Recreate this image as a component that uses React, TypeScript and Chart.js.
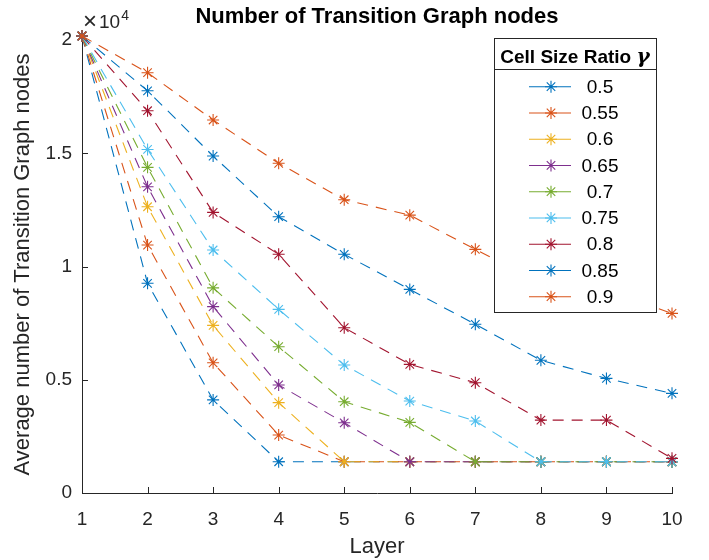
import React, { useEffect, useRef } from 'react';
import { Chart, registerables } from 'chart.js';

Chart.register(...registerables);

// ---- data ----
const layers = [1, 2, 3, 4, 5, 6, 7, 8, 9, 10];
const ratioLabels = ['0.5', '0.55', '0.6', '0.65', '0.7', '0.75', '0.8', '0.85', '0.9'];
const r050 = [20180, 9260, 4110, 1380, 1380, 1380, 1380, 1380, 1380, 1380];
const r055 = [20180, 10950, 5750, 2560, 1380, 1380, 1380, 1380, 1380, 1380];
const r060 = [20180, 12640, 7400, 3990, 1380, 1380, 1380, 1380, 1380, 1380];
const r065 = [20180, 13520, 8230, 4770, 3100, 1380, 1380, 1380, 1380, 1380];
const r070 = [20180, 14380, 9060, 6460, 4030, 3120, 1380, 1380, 1380, 1380];
const r075 = [20180, 15170, 10730, 8110, 5650, 4060, 3180, 1380, 1380, 1380];
const r080 = [20180, 16880, 12390, 10540, 7300, 5680, 4870, 3220, 3220, 1530];
const r085 = [20180, 17760, 14880, 12200, 10540, 8990, 7450, 5860, 5060, 4400];
const r090 = [20180, 18560, 16470, 14560, 12950, 12270, 10760, 9290, 8970, 7930];
const seriesValues = [r050, r055, r060, r065, r070, r075, r080, r085, r090];
const seriesColors = ['#0072BD', '#D95319', '#EDB120', '#7E2F8E', '#77AC30', '#4DBEEE', '#A2142F', '#0072BD', '#D95319'];
const yTickValues = [0, 5000, 10000, 15000, 20000];
const yMaxValue = 20180;
const chartTitle = 'Number of Transition Graph nodes';
const xAxisTitle = 'Layer';
const yAxisTitle = 'Average number of Transition Graph nodes';
const legendTitle = 'Cell Size Ratio ';
const legendSymbol = 'γ';

const FONT = "'Liberation Sans', Arial, Helvetica, sans-serif";
const AXIS_COLOR = '#262626';

function drawStar(ctx: CanvasRenderingContext2D, x: number, y: number, r: number) {
  ctx.beginPath();
  for (let k = 0; k < 4; k++) {
    const a = (k * Math.PI) / 4;
    ctx.moveTo(x - Math.cos(a) * r, y - Math.sin(a) * r);
    ctx.lineTo(x + Math.cos(a) * r, y + Math.sin(a) * r);
  }
  ctx.stroke();
}

const decorPlugin = {
  id: 'decor',
  beforeDatasetsDraw(chart: any) {
    const ctx = chart.ctx as CanvasRenderingContext2D;
    const xs = chart.scales.x;
    const ys = chart.scales.y;
    const area = chart.chartArea;
    ctx.save();
    ctx.strokeStyle = AXIS_COLOR;
    ctx.lineWidth = 1;
    ctx.beginPath();
    layers.forEach((v) => {
      const px = Math.round(xs.getPixelForValue(v)) + 0.5;
      ctx.moveTo(px, area.bottom);
      ctx.lineTo(px, area.bottom - 6);
    });
    yTickValues.forEach((v) => {
      const py = Math.round(ys.getPixelForValue(v)) + 0.5;
      ctx.moveTo(area.left, py);
      ctx.lineTo(area.left + 6, py);
    });
    ctx.stroke();
    ctx.restore();
  },
  afterDraw(chart: any) {
    const ctx = chart.ctx as CanvasRenderingContext2D;
    const area = chart.chartArea;
    ctx.save();
    // title
    ctx.fillStyle = '#000';
    ctx.font = `bold 22px ${FONT}`;
    ctx.textAlign = 'center';
    ctx.textBaseline = 'alphabetic';
    ctx.fillText(chartTitle, (area.left + area.right) / 2, 23);

    // exponent label
    ctx.fillStyle = AXIS_COLOR;
    ctx.textAlign = 'left';
    ctx.font = `24px ${FONT}`;
    ctx.fillText('×', 83, 29);
    ctx.font = `19px ${FONT}`;
    ctx.fillText('10', 99, 28);
    const w10 = ctx.measureText('10').width;
    ctx.font = `14px ${FONT}`;
    ctx.fillText('4', 99 + w10 + 1, 20);

    // legend box
    const L = 494, T = 38, R = 656, B = 312, SEP = 69;
    ctx.fillStyle = '#ffffff';
    ctx.fillRect(L, T, R - L, B - T);
    ctx.strokeStyle = '#262626';
    ctx.lineWidth = 1;
    ctx.strokeRect(L + 0.5, T + 0.5, R - L, B - T);
    ctx.beginPath();
    ctx.moveTo(L, SEP + 0.5);
    ctx.lineTo(R, SEP + 0.5);
    ctx.stroke();

    // legend title
    ctx.fillStyle = '#000';
    ctx.font = `bold 19px ${FONT}`;
    const tw = ctx.measureText(legendTitle).width;
    const gFont = `italic bold 20px 'DejaVu Serif', 'Liberation Serif', serif`;
    ctx.font = gFont;
    const gw = ctx.measureText(legendSymbol).width;
    const startX = (L + R) / 2 - (tw + gw) / 2;
    ctx.font = `bold 19px ${FONT}`;
    ctx.textAlign = 'left';
    ctx.fillText(legendTitle, startX, 63);
    ctx.font = gFont;
    ctx.fillText(legendSymbol, startX + tw, 63);

    // legend entries
    ctx.font = `19px ${FONT}`;
    ctx.textAlign = 'center';
    ctx.textBaseline = 'middle';
    ratioLabels.forEach((lab, i) => {
      const y = 86.7 + i * 26.25;
      ctx.strokeStyle = seriesColors[i];
      ctx.lineWidth = 1.1;
      ctx.beginPath();
      ctx.moveTo(529, y);
      ctx.lineTo(571, y);
      ctx.stroke();
      drawStar(ctx, 551, y, 6);
      ctx.fillStyle = '#000';
      ctx.fillText(lab, 600, y + 1);
    });
    ctx.restore();
  },
};

export default function App() {
  const canvasRef = useRef<HTMLCanvasElement | null>(null);

  useEffect(() => {
    const canvas = canvasRef.current;
    if (!canvas) return;
    const n = seriesValues.length;
    const chart = new Chart(canvas, {
      type: 'line',
      data: {
        datasets: seriesValues.map((vals, i) => ({
          label: ratioLabels[i],
          data: vals.map((v, j) => ({ x: layers[j], y: v })),
          borderColor: seriesColors[i],
          backgroundColor: seriesColors[i],
          borderWidth: 1.1,
          borderDash: [11, 8],
          pointStyle: 'star',
          pointRadius: 6,
          pointBorderWidth: 1.1,
          pointBorderColor: seriesColors[i],
          pointBackgroundColor: seriesColors[i],
          fill: false,
          tension: 0,
          clip: false as any,
          order: n - 1 - i,
        })),
      },
      options: {
        responsive: false,
        animation: false,
        events: [],
        layout: { padding: { top: 36, right: 37, left: 0, bottom: 0 } },
        plugins: {
          legend: { display: false },
          title: { display: false },
          tooltip: { enabled: false },
        },
        scales: {
          x: {
            type: 'linear',
            min: 1,
            max: 10,
            afterFit: (scale: any) => {
              scale.height = 67;
            },
            afterBuildTicks: (scale: any) => {
              scale.ticks = layers.map((v) => ({ value: v }));
            },
            ticks: {
              stepSize: 1,
              color: AXIS_COLOR,
              font: { family: FONT, size: 19 },
              padding: 15,
              maxRotation: 0,
              autoSkip: false,
            },
            grid: { display: false, drawTicks: false },
            border: { display: true, color: AXIS_COLOR, width: 1 },
            title: {
              display: true,
              text: xAxisTitle,
              color: AXIS_COLOR,
              font: { family: FONT, size: 22 },
              padding: { top: 0, bottom: 0 },
            },
          },
          y: {
            type: 'linear',
            min: 0,
            max: yMaxValue,
            afterFit: (scale: any) => {
              scale.width = 82;
            },
            afterBuildTicks: (scale: any) => {
              scale.ticks = yTickValues.map((v) => ({ value: v }));
            },
            ticks: {
              color: AXIS_COLOR,
              font: { family: FONT, size: 19 },
              padding: 10,
              callback: (v: any) => String(Number(v) / 10000),
            },
            grid: { display: false, drawTicks: false },
            border: { display: true, color: AXIS_COLOR, width: 1 },
            title: {
              display: true,
              text: yAxisTitle,
              color: AXIS_COLOR,
              font: { family: FONT, size: 22 },
              padding: { top: 10, bottom: 0 },
            },
          },
        },
      },
      plugins: [decorPlugin],
    });
    return () => chart.destroy();
  }, []);

  return (
    <div style={{ position: 'absolute', left: 0, top: 0, width: 709, height: 560, background: '#fff' }}>
      <canvas ref={canvasRef} width={709} height={560} style={{ width: 709, height: 560 }} />
    </div>
  );
}
